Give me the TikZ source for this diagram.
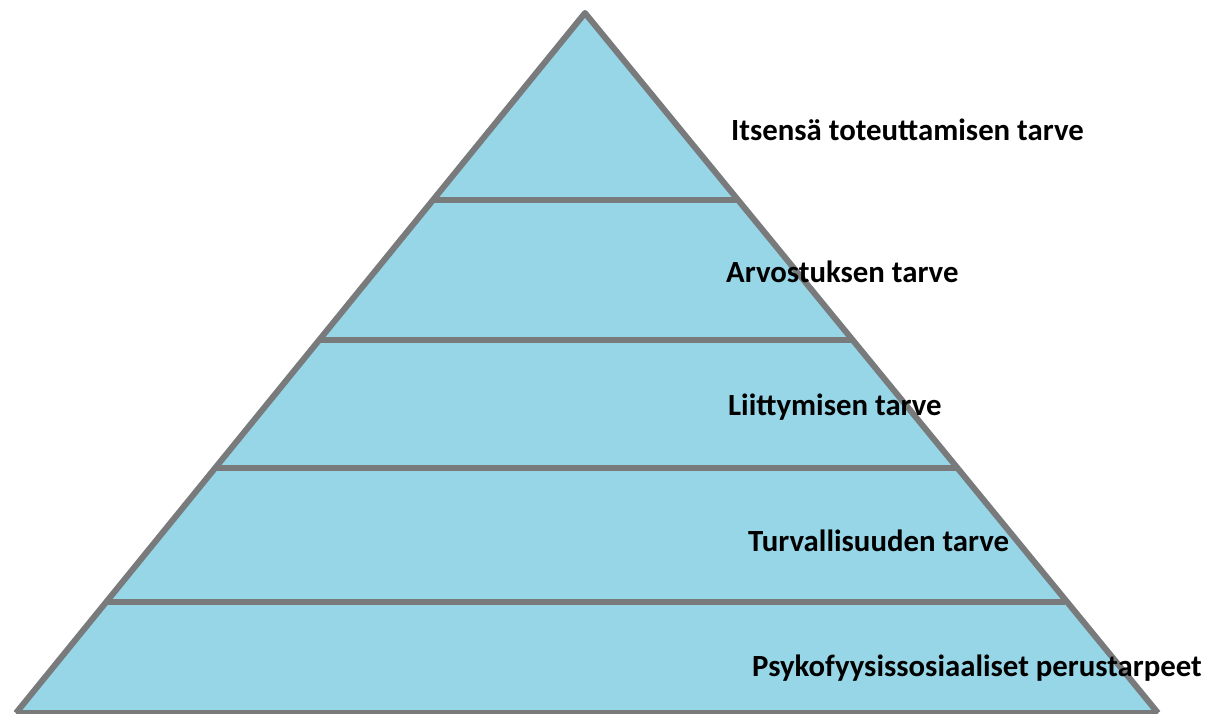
\documentclass[tikz,border=0pt]{standalone}
\usepackage{fontspec}
\setmainfont{Carlito}
\definecolor{pyrfill}{HTML}{97D6E7}
\definecolor{pyrline}{HTML}{787A7C}
\tikzset{
  lbl/.style={anchor=west, inner sep=0pt, font=\bfseries\fontsize{30.8}{36}\selectfont, text=black},
  divider/.style={draw=pyrline, line width=6pt},
}
\begin{document}
\begin{tikzpicture}[x=1pt,y=-1pt]
\useasboundingbox (0,0) rectangle (1211,713);
\coordinate (apex) at (585,13);
\coordinate (bl) at (16,713);
\coordinate (br) at (1158,713);
\fill[pyrfill] (apex) -- (br) -- (bl) -- cycle;
% dividers
\foreach \y/\n in {200/a,340/b,468/c,602/d}{
  \coordinate (l\n) at ({585-0.8143*(\y-13)},\y);
  \coordinate (r\n) at ({585+0.8157*(\y-13)},\y);
  \draw[divider] (l\n) -- (r\n);
}
\draw[pyrline, line width=6pt, line join=round] (bl) -- (apex) -- (br);
\draw[pyrline, line width=6pt] (bl) -- (br);
\node[lbl] (t1) at (731,130) {Itsensä toteuttamisen tarve};
\node[lbl] (t2) at (726,272) {Arvostuksen tarve};
\node[lbl] (t3) at (728,407) {Liittymisen tarve};
\node[lbl] (t4) at (748,541) {Turvallisuuden tarve};
\node[lbl] (t5) at (752,668) {Psykofyysissosiaaliset perustarpeet};
\end{tikzpicture}
\end{document}
